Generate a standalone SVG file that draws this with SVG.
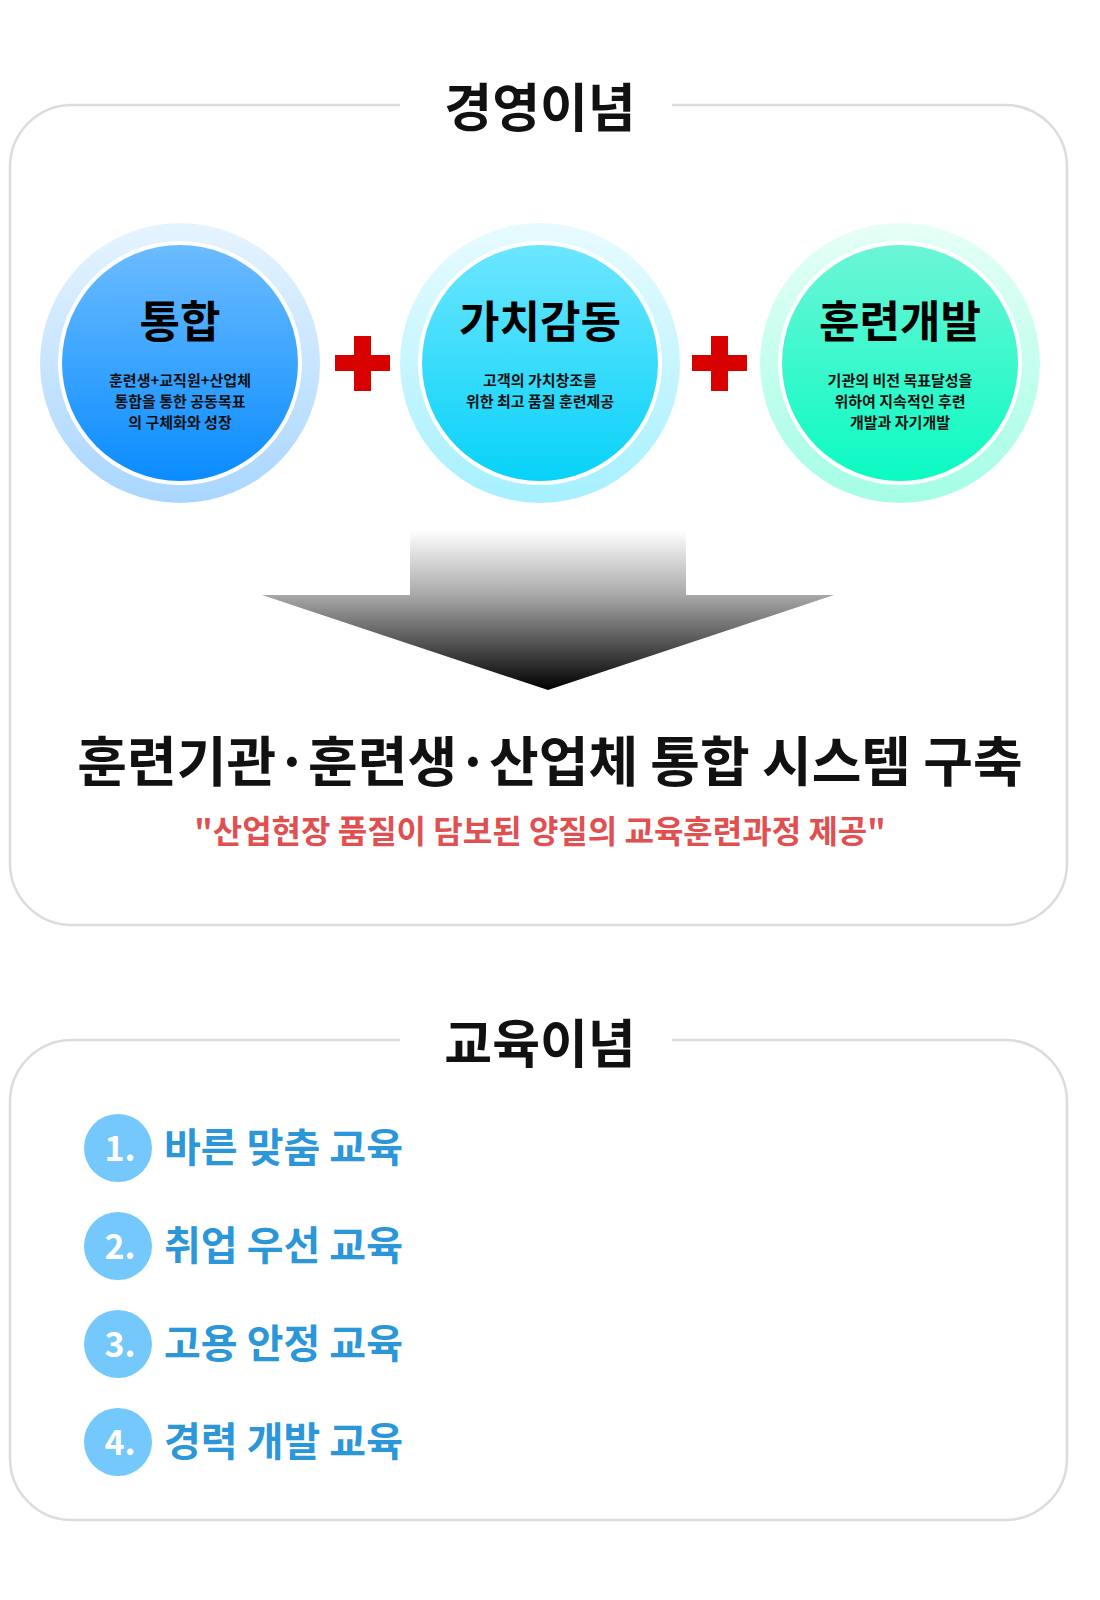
<svg xmlns="http://www.w3.org/2000/svg" width="1100" height="1600" viewBox="0 0 1100 1600">
<defs>
<style>
.k{font-family:"Noto Sans CJK KR","Noto Sans",sans-serif;font-weight:700}
.box{fill:#fff;stroke:#dcdcdc;stroke-width:2.5}
.t1{font-size:44px;fill:#000;text-anchor:middle}
.t2{font-size:15px;fill:#111;text-anchor:middle}
.h{font-size:54px;fill:#111;text-anchor:middle}
.li{font-size:40px;fill:#2b97d8}
.num{font-size:34px;fill:#fff;text-anchor:middle}
</style>
<linearGradient id="g1" x1="0" y1="0" x2="0" y2="1"><stop offset="0" stop-color="#6cbcff"/><stop offset="1" stop-color="#0a8cff"/></linearGradient>
<linearGradient id="g2" x1="0" y1="0" x2="0" y2="1"><stop offset="0" stop-color="#6ce6ff"/><stop offset="1" stop-color="#08d2f8"/></linearGradient>
<linearGradient id="g3" x1="0" y1="0" x2="0" y2="1"><stop offset="0" stop-color="#6cf5d6"/><stop offset="1" stop-color="#0bfbc3"/></linearGradient>
<linearGradient id="h1" x1="0" y1="0" x2="0" y2="1"><stop offset="0" stop-color="#e6f4ff"/><stop offset="1" stop-color="#a9d6ff"/></linearGradient>
<linearGradient id="h2" x1="0" y1="0" x2="0" y2="1"><stop offset="0" stop-color="#e8fbff"/><stop offset="1" stop-color="#a6f0ff"/></linearGradient>
<linearGradient id="h3" x1="0" y1="0" x2="0" y2="1"><stop offset="0" stop-color="#e6fff7"/><stop offset="1" stop-color="#a4fde6"/></linearGradient>
<linearGradient id="ag" x1="0" y1="0" x2="0" y2="1"><stop offset="0" stop-color="#ffffff"/><stop offset="0.4" stop-color="#aaaaaa"/><stop offset="1" stop-color="#000"/></linearGradient>
</defs>
<rect width="1100" height="1600" fill="#fff"/>
<g id="box1"><rect class="box" x="10" y="105" width="1057" height="820" rx="62"/><rect x="400" y="90" width="272" height="40" fill="#fff"/><text class="k" x="540" y="127" font-size="52" text-anchor="middle" fill="#111">경영이념</text></g>
<g id="n1"><circle cx="180" cy="363" r="140" fill="url(#h1)"/><circle cx="180" cy="363" r="122" fill="#fff"/><circle cx="180" cy="363" r="118" fill="url(#g1)"/>
<text class="k t1" x="180" y="338">통합</text><text class="k t2" x="180" y="386">훈련생+교직원+산업체</text><text class="k t2" x="180" y="407">통합을 통한 공동목표</text><text class="k t2" x="180" y="428">의 구체화와 성장</text></g>
<g id="n2"><circle cx="540" cy="363" r="140" fill="url(#h2)"/><circle cx="540" cy="363" r="122" fill="#fff"/><circle cx="540" cy="363" r="118" fill="url(#g2)"/>
<text class="k t1" x="540" y="338">가치감동</text><text class="k t2" x="540" y="386">고객의 가치창조를</text><text class="k t2" x="540" y="407">위한 최고 품질 훈련제공</text></g>
<g id="n3"><circle cx="900" cy="363" r="140" fill="url(#h3)"/><circle cx="900" cy="363" r="122" fill="#fff"/><circle cx="900" cy="363" r="118" fill="url(#g3)"/>
<text class="k t1" x="900" y="338">훈련개발</text><text class="k t2" x="900" y="386">기관의 비전 목표달성을</text><text class="k t2" x="900" y="407">위하여 지속적인 후련</text><text class="k t2" x="900" y="428">개발과 자기개발</text></g>
<g id="plus" fill="#d90000"><rect x="335" y="355" width="55" height="16"/><rect x="354" y="336" width="17" height="55"/><rect x="692" y="355" width="55" height="16"/><rect x="711" y="336" width="17" height="55"/></g>
<g id="connectors"><polygon points="410,530 686,530 686,595 834,595 548,690 262,595 410,595" fill="url(#ag)"/></g>
<g id="result"><text class="k h" x="550" y="782">훈련기관·훈련생·산업체 통합 시스템 구축</text>
<text class="k" x="540" y="843" font-size="32" text-anchor="middle" fill="#e05050">"산업현장 품질이 담보된 양질의 교육훈련과정 제공"</text></g>
<g id="box2"><rect class="box" x="10" y="1040" width="1057" height="480" rx="62"/><rect x="400" y="1025" width="272" height="40" fill="#fff"/><text class="k" x="540" y="1063" font-size="52" text-anchor="middle" fill="#111">교육이념</text></g>
<g id="i1"><circle cx="118" cy="1148" r="34" fill="#74c8fb"/><text class="k num" x="120" y="1161">1.</text><text class="k li" x="164" y="1162">바른 맞춤 교육</text></g>
<g id="i2"><circle cx="118" cy="1246" r="34" fill="#74c8fb"/><text class="k num" x="120" y="1259">2.</text><text class="k li" x="164" y="1260">취업 우선 교육</text></g>
<g id="i3"><circle cx="118" cy="1344" r="34" fill="#74c8fb"/><text class="k num" x="120" y="1357">3.</text><text class="k li" x="164" y="1358">고용 안정 교육</text></g>
<g id="i4"><circle cx="118" cy="1442" r="34" fill="#74c8fb"/><text class="k num" x="120" y="1455">4.</text><text class="k li" x="164" y="1456">경력 개발 교육</text></g>
</svg>
